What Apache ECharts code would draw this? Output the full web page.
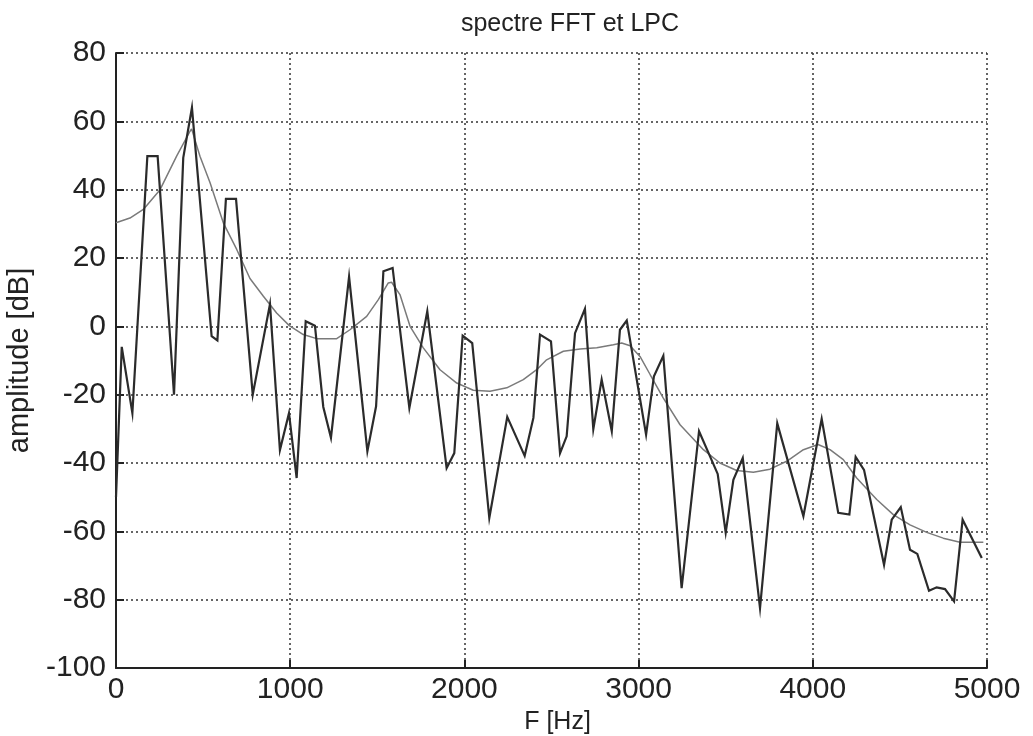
<!DOCTYPE html>
<html><head><meta charset="utf-8">
<script src="https://cdn.jsdelivr.net/npm/echarts@6/dist/echarts.min.js"></script>
<style>html,body{margin:0;padding:0;background:#fff}#c{width:1033px;height:736px}</style>
</head><body><div id="c"></div>
<script>
// FFT spectrum vertices (Hz, dB)
const fftFreq = [0,33,94,180,239,333,386,436,549,582,631,689,785,884,941,993,1037,1089,1142,1190,1234,1338,1443,1493,1535,1588,1684,1787,1898,1942,1990,2045,2143,2246,2346,2396,2434,2497,2549,2587,2635,2692,2740,2788,2846,2893,2932,3043,3088,3142,3247,3347,3454,3500,3544,3598,3697,3796,3946,4051,4146,4210,4246,4294,4409,4453,4505,4558,4600,4667,4711,4759,4811,4860,4970];
const fftDb   = [-50,-6,-25.4,49.8,49.8,-20,49.3,64,-2.9,-4.1,37.3,37.3,-20,6.5,-36.2,-25.4,-44.4,1.5,0.2,-23.6,-32.6,14.5,-36.6,-23.4,16.1,17.1,-23.9,4.4,-41.5,-37.1,-2.7,-4.9,-56.1,-26.5,-37.9,-26.8,-2.4,-4.4,-37.1,-32.2,-2,5.1,-30.1,-15.6,-30.7,-1,1.7,-31.7,-14.6,-8.6,-76.6,-30.7,-43.2,-60.4,-44.9,-38.5,-82.5,-28.4,-55.6,-27.1,-54.6,-55.1,-38.2,-42,-69.8,-56.6,-52.9,-65.4,-66.6,-77.4,-76.4,-76.9,-80.5,-56.6,-67.8];
// LPC envelope (Hz, dB)
const lpcFreq = [0,80,157,253,348,425,434,482,540,616,693,769,846,922,995,1075,1152,1267,1343,1439,1506,1563,1582,1630,1688,1764,1860,1956,2051,2147,2243,2338,2415,2472,2568,2664,2760,2855,2903,2951,3008,3066,3142,3238,3372,3467,3563,3659,3754,3850,3946,4030,4099,4175,4252,4367,4462,4558,4654,4749,4845,4979];
const lpcDb   = [30.3,31.7,34.2,40,49.8,57.1,57.8,49.8,42,30.3,22.5,14,8.8,3.9,0.2,-2.4,-3.6,-3.6,-1,2.9,7.8,12.7,12.9,9.3,0,-6.3,-12.7,-16.6,-18.7,-19,-18,-15.6,-12.7,-9.8,-7.3,-6.6,-6.3,-5.4,-4.9,-5.7,-8.8,-14.1,-21,-28.8,-36.1,-40,-42.2,-42.7,-41.8,-39.5,-36.1,-34.6,-36.1,-39,-44.4,-50.7,-55.1,-58.1,-60.3,-62,-63.2,-63.2];
const xTicks = {min:0,max:5000,interval:1000};
const yTicks = {min:-100,max:80,interval:20};
const titleText = 'spectre FFT et LPC';
const xName = 'F [Hz]';
const yName = 'amplitude [dB]';

const pair = (xs, ys) => xs.map((x, i) => [x, ys[i]]);
const font = 'Liberation Sans, Arial, sans-serif';
const chart = echarts.init(document.getElementById('c'), null, {renderer:'canvas'});
chart.setOption({
  animation:false,
  backgroundColor:'#fff',
  title:{text:titleText,left:565,top:7,textAlign:'center',
    textStyle:{fontFamily:font,fontSize:25,fontWeight:'normal',color:'#222'}},
  grid:{left:116,right:46,top:53,bottom:68,containLabel:false,outerBoundsMode:'none'},
  xAxis:{type:'value',min:xTicks.min,max:xTicks.max,interval:xTicks.interval,
    name:xName,nameLocation:'middle',nameGap:36,
    nameTextStyle:{fontFamily:font,fontSize:25,color:'#222',padding:[0,0,0,12]},
    axisLine:{show:true,onZero:false,lineStyle:{color:'#222',width:2}},
    axisTick:{show:true,inside:true,length:8,lineStyle:{color:'#222',width:2}},
    axisLabel:{fontFamily:font,fontSize:30,color:'#222',margin:7,formatter:v=>String(v)},
    splitLine:{show:true,lineStyle:{color:'#333',width:1.5,type:[2,3]}}},
  yAxis:{type:'value',min:yTicks.min,max:yTicks.max,interval:yTicks.interval,
    name:yName,nameLocation:'middle',nameGap:82,nameRotate:90,
    nameTextStyle:{fontFamily:font,fontSize:29,color:'#222'},
    axisLine:{show:true,onZero:false,lineStyle:{color:'#222',width:2}},
    axisTick:{show:true,inside:true,length:8,lineStyle:{color:'#222',width:2}},
    axisLabel:{fontFamily:font,fontSize:30,color:'#222',margin:10,formatter:v=>String(v)},
    splitLine:{show:true,lineStyle:{color:'#333',width:1.5,type:[2,3]}}},
  series:[
    {type:'line',data:pair(lpcFreq,lpcDb),showSymbol:false,smooth:false,
      lineStyle:{color:'#7a7a7a',width:1.5},z:2},
    {type:'line',data:pair(fftFreq,fftDb),showSymbol:false,smooth:false,
      lineStyle:{color:'#2b2b2b',width:2.2,join:'miter'},z:3}
  ]
});
</script></body></html>
